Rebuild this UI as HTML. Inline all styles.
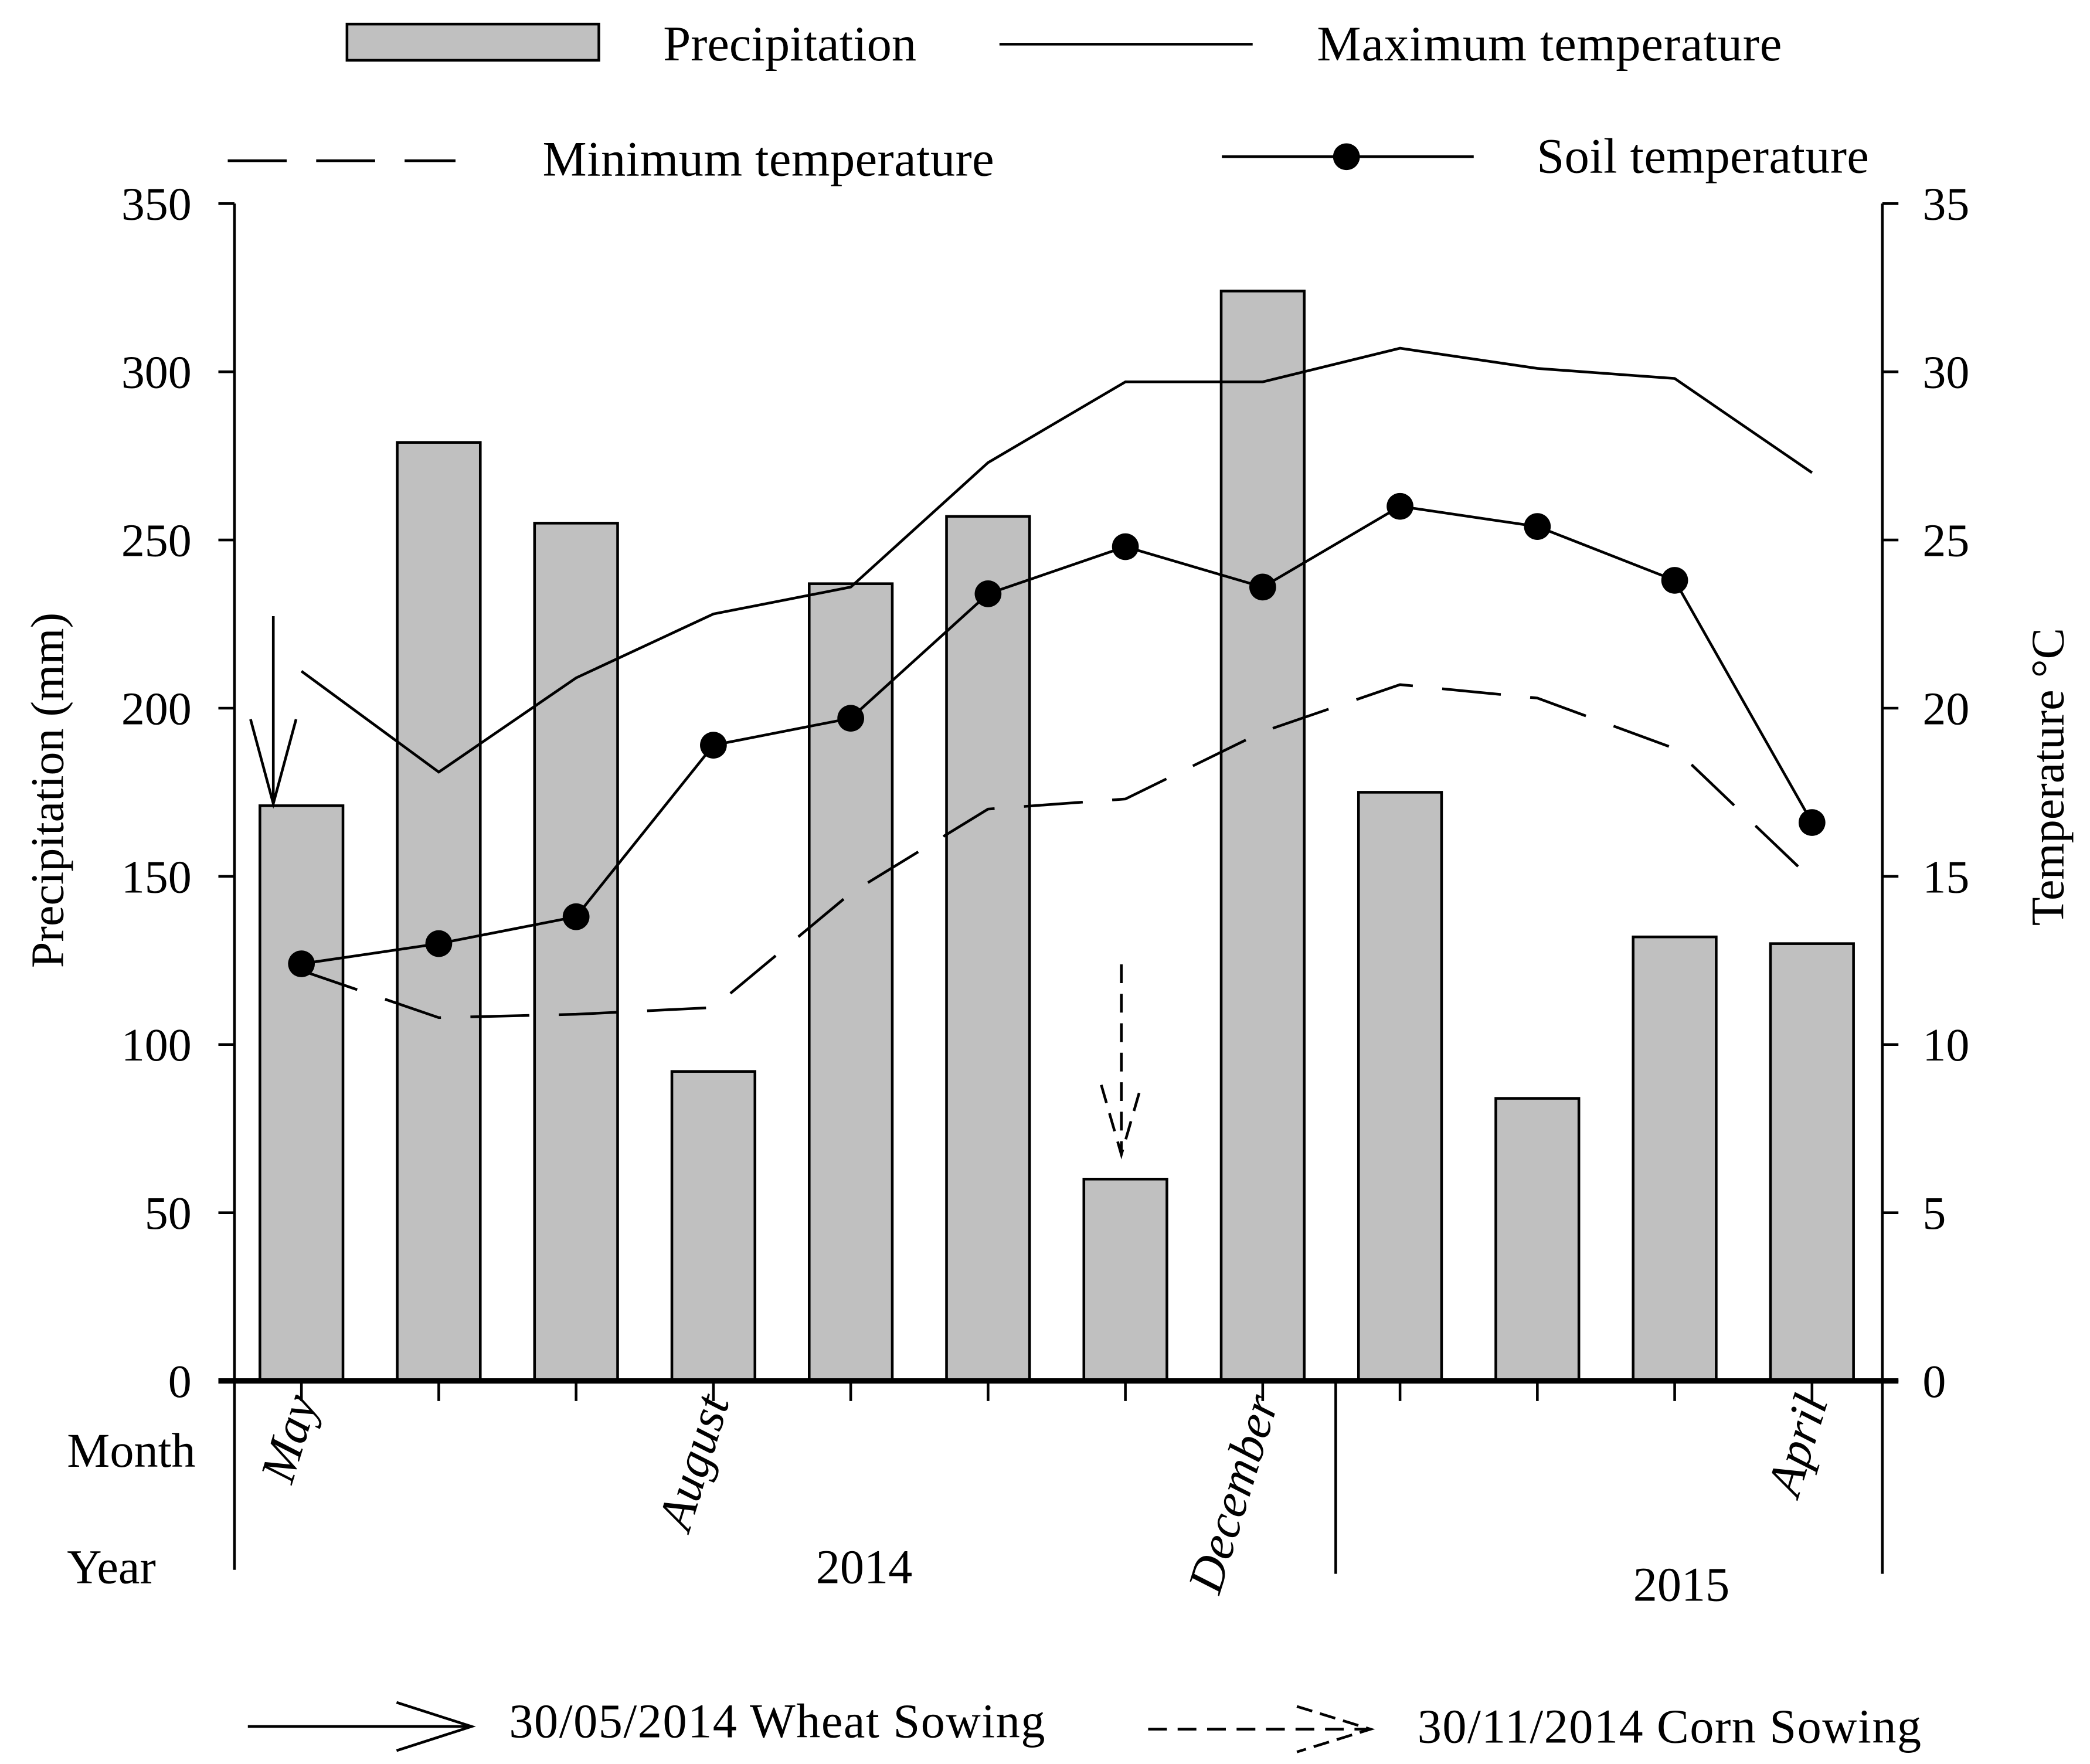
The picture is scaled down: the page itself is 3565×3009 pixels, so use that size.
<!DOCTYPE html>
<html><head><meta charset="utf-8"><style>html,body{margin:0;padding:0;background:#fff}svg{display:block}text{font-family:"Liberation Serif",serif;fill:#000}</style></head>
<body>
<svg id="chart" width="3565" height="3009" viewBox="0 0 1560 1317" preserveAspectRatio="none" xmlns="http://www.w3.org/2000/svg">
<g id="legend">
 <rect x="259" y="18" width="188" height="27" fill="#c0c0c0" stroke="#000" stroke-width="2"/>
 <text x="495" y="45" font-size="37">Precipitation</text>
 <line x1="746" y1="33" x2="935" y2="33" stroke="#000" stroke-width="2"/>
 <text x="983" y="45" font-size="37" textLength="347">Maximum temperature</text>
 <line x1="170" y1="120" x2="340" y2="120" stroke="#000" stroke-width="2" stroke-dasharray="44,22"/>
 <text x="405" y="131" font-size="37" textLength="337">Minimum temperature</text>
 <line x1="912" y1="117" x2="1100" y2="117" stroke="#000" stroke-width="2"/>
 <circle cx="1005" cy="117" r="10" fill="#000"/>
 <text x="1147" y="129" font-size="37" textLength="248">Soil temperature</text>
</g>
<g id="plot"></g>
<text transform="translate(47,590) rotate(-90)" text-anchor="middle" font-size="35">Precipitation (mm)</text>
<text transform="translate(1540,580) rotate(-90)" text-anchor="middle" font-size="35">Temperature °C</text>
<text x="50" y="1095" font-size="36">Month</text>
<text x="50" y="1182" font-size="36">Year</text>
<text x="645" y="1182" text-anchor="middle" font-size="36">2014</text>
<text x="1255" y="1195" text-anchor="middle" font-size="36">2015</text>
<g id="bottom-legend">
 <line x1="185" y1="1289" x2="352" y2="1289" stroke="#000" stroke-width="2"/>
 <polyline points="296,1271 352,1289 296,1307" fill="none" stroke="#000" stroke-width="2"/>
 <text x="380" y="1297" font-size="36" textLength="400">30/05/2014 Wheat Sowing</text>
 <line x1="857" y1="1291" x2="1023" y2="1291" stroke="#000" stroke-width="2" stroke-dasharray="14,8"/>
 <polyline points="968,1274 1023,1291 968,1308" fill="none" stroke="#000" stroke-width="2" stroke-dasharray="12,6"/>
 <text x="1058" y="1301" font-size="36" textLength="376">30/11/2014 Corn Sowing</text>
</g>
<script>
const months = ["May","Jun","Jul","August","Sep","Oct","Nov","December","Jan","Feb","Mar","April"];
const precipitation = [171, 279, 255, 92, 237, 257, 60, 324, 175, 84, 132, 130];
const maxTemp = [21.1, 18.1, 20.9, 22.8, 23.6, 27.3, 29.7, 29.7, 30.7, 30.1, 29.8, 27.0];
const minTemp = [12.2, 10.8, 10.9, 11.1, 14.5, 17.0, 17.3, 19.3, 20.7, 20.3, 18.8, 14.9];
const soilTemp = [12.4, 13.0, 13.8, 18.9, 19.7, 23.4, 24.8, 23.6, 26.0, 25.4, 23.8, 16.6];
const precipTicks = [0, 50, 100, 150, 200, 250, 300, 350];
const tempTicks = [0, 5, 10, 15, 20, 25, 30, 35];
const shownMonths = ["May","August","December","April"];

const NS = "http://www.w3.org/2000/svg";
const g = document.getElementById("plot");
const L = 175, R = 1405, Y0 = 1031, YT = 152;
const x = i => 225 + i * 102.5;
const yP = v => Y0 - (v / 350) * (Y0 - YT);
const yT = v => Y0 - (v / 35) * (Y0 - YT);
function mk(tag, attrs) { const e = document.createElementNS(NS, tag); for (const k in attrs) e.setAttribute(k, attrs[k]); g.appendChild(e); return e; }

precipitation.forEach((v, i) => {
  const r = mk("rect", {x: x(i) - 31, y: yP(v), width: 62, height: Y0 - yP(v), fill: "#c0c0c0", stroke: "#000", "stroke-width": 2});
  
  
});
function line(arr, name, dash) {
  const p = mk("polyline", {points: arr.map((v, i) => x(i) + "," + yT(v)).join(" "), fill: "none", stroke: "#000", "stroke-width": 2});
  if (dash) p.setAttribute("stroke-dasharray", dash);
  
  
}
line(maxTemp, "max-temp-line");
line(minTemp, "min-temp-line", "44,22");
line(soilTemp, "soil-temp-line");
soilTemp.forEach((v, i) => {
  const c = mk("circle", {cx: x(i), cy: yT(v), r: 10, fill: "#000"});
  
  
});
const ax = mk("path", {d: `M${L},${YT}V${Y0}H${R}V${YT}M${L},${Y0}V1172M997,${Y0}V1175M${R},${Y0}V1175`, fill: "none", stroke: "#000", "stroke-width": 2});


const base = mk("line", {x1: L - 12, y1: Y0, x2: R + 12, y2: Y0, stroke: "#000", "stroke-width": 4});


precipTicks.forEach(v => {
  const t = mk("line", {x1: L - 12, y1: yP(v), x2: L, y2: yP(v), stroke: "#000", "stroke-width": 2});
  
  
  const tx = mk("text", {x: 143, y: yP(v) + 12, "text-anchor": "end", "font-size": 35});
  tx.textContent = v;
  
  
});
tempTicks.forEach(v => {
  const t = mk("line", {x1: R, y1: yT(v), x2: R + 12, y2: yT(v), stroke: "#000", "stroke-width": 2});
  
  
  const tx = mk("text", {x: 1435, y: yT(v) + 12, "font-size": 35});
  tx.textContent = v;
  
  
});
months.forEach((m, i) => {
  const t = mk("line", {x1: x(i), y1: Y0, x2: x(i), y2: 1046, stroke: "#000", "stroke-width": 2});
  
  
  if (shownMonths.includes(m)) {
    const tx = mk("text", {transform: `translate(${x(i) + 12},1046) rotate(-73)`, "text-anchor": "end", "font-size": 37, "font-style": "italic"});
    tx.textContent = m;
    
    
  }
});
const a1 = mk("path", {d: "M204,460V600M187,537L204,600L221,537", fill: "none", stroke: "#000", "stroke-width": 2});


const a2 = mk("path", {d: "M837,720V862M822,810L837,862L852,810", fill: "none", stroke: "#000", "stroke-width": 2, "stroke-dasharray": "14,8"});


</script>
</svg>
</body></html>
